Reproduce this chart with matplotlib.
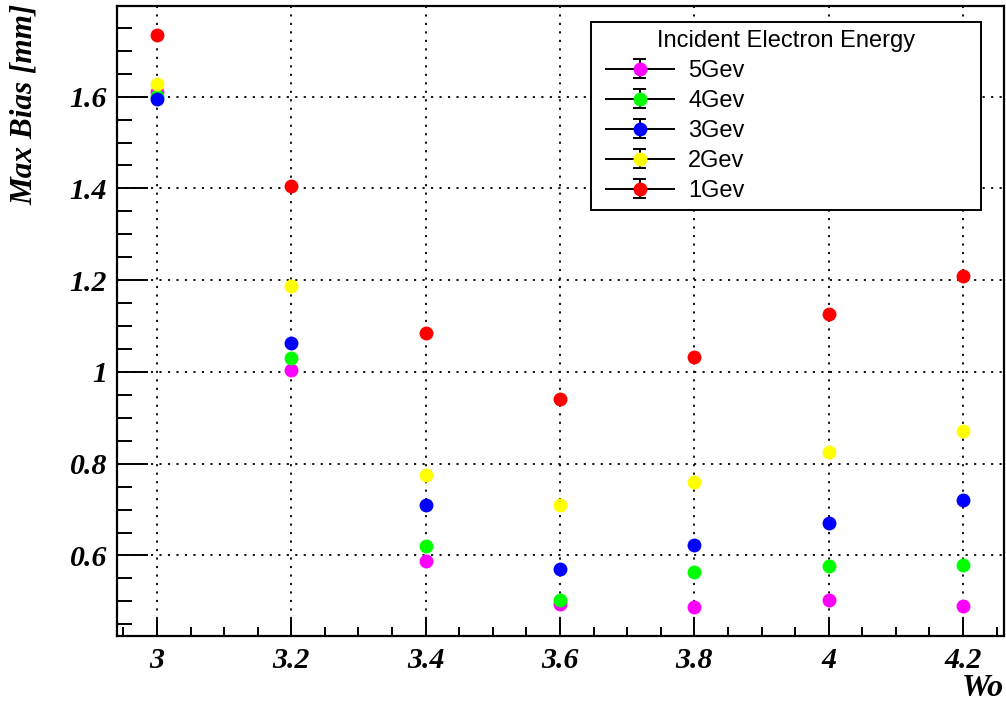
import numpy as np
import matplotlib
matplotlib.use("Agg")
import matplotlib.pyplot as plt
from matplotlib.lines import Line2D
from matplotlib.legend_handler import HandlerBase
from matplotlib.ticker import MultipleLocator

wo = [3.0, 3.2, 3.4, 3.6, 3.8, 4.0, 4.2]
bias_5gev = [1.611, 1.004, 0.589, 0.495, 0.487, 0.502, 0.489]
bias_4gev = [1.601, 1.030, 0.620, 0.504, 0.565, 0.576, 0.580]
bias_3gev = [1.595, 1.063, 0.709, 0.570, 0.622, 0.670, 0.720]
bias_2gev = [1.628, 1.187, 0.776, 0.709, 0.761, 0.826, 0.872]
bias_1gev = [1.735, 1.406, 1.085, 0.941, 1.032, 1.126, 1.209]
series_labels = ["5Gev", "4Gev", "3Gev", "2Gev", "1Gev"]
series_values = [bias_5gev, bias_4gev, bias_3gev, bias_2gev, bias_1gev]
series_colors = ["#ff00ff", "#00ff00", "#0000ff", "#ffff00", "#ff0000"]

fig = plt.figure(figsize=(10.06, 7.03), dpi=100)
ax = fig.add_axes([117/1006, 1-636/703, (1004-117)/1006, (636-6)/703])

handles = []
for lab, vals, col in zip(series_labels, series_values, series_colors):
    h, = ax.plot(wo, vals, linestyle='none', marker='o', ms=10, mfc=col,
                 mec=col, mew=0, label=lab, zorder=3)
    handles.append(h)

ax.set_xlim(2.9405, 4.261)
ax.set_ylim(0.4245, 1.7975)
ax.xaxis.set_major_locator(MultipleLocator(0.2))
ax.xaxis.set_minor_locator(MultipleLocator(0.05))
ax.yaxis.set_major_locator(MultipleLocator(0.2))
ax.yaxis.set_minor_locator(MultipleLocator(0.05))

def fmt(v, pos):
    s = f"{v:.1f}"
    if s.endswith(".0"):
        s = s[:-2]
    return s
ax.xaxis.set_major_formatter(plt.FuncFormatter(fmt))
ax.yaxis.set_major_formatter(plt.FuncFormatter(fmt))

ax.grid(True, which='major', color='black', linestyle=(0, (1.2, 3.5)), linewidth=1.3)
ax.set_axisbelow(True)

for sp in ax.spines.values():
    sp.set_linewidth(1.6)
    sp.set_color('black')

ax.tick_params(axis='y', which='major', direction='in', length=22, width=1.4, pad=7, left=True, right=False)
ax.tick_params(axis='y', which='minor', direction='in', length=11, width=1.4, left=True, right=False)
ax.tick_params(axis='x', which='major', direction='in', length=13, width=1.4, pad=8, bottom=True, top=False)
ax.tick_params(axis='x', which='minor', direction='in', length=6.5, width=1.4, bottom=True, top=False)
for lbl in ax.get_xticklabels() + ax.get_yticklabels():
    lbl.set_fontfamily('Liberation Serif')
    lbl.set_fontweight('bold')
    lbl.set_fontstyle('italic')
    lbl.set_fontsize(21.5)

fig.text(24/1006, 1-4/703, "Max Bias [mm]", rotation=90, ha='center', va='top',
         fontfamily='Liberation Serif', fontweight='bold', fontstyle='italic', fontsize=22.5)
fig.text(1004/1006, 1-688/703, "Wo", ha='right', va='center',
         fontfamily='Liberation Serif', fontweight='bold', fontstyle='italic', fontsize=23)


class ErrHandler(HandlerBase):
    def create_artists(self, legend, orig_handle, xdescent, ydescent, width, height, fontsize, trans):
        off = 5.0
        xs = -xdescent + off
        xe = width - xdescent
        cx = (xs + xe) / 2
        cy = height / 2 - ydescent
        e = 7.0
        c = 4.0
        arts = [
            Line2D([xs, xe], [cy, cy], color='black', lw=1.4),
            Line2D([cx, cx], [cy - e, cy + e], color='black', lw=1.4),
            Line2D([cx - c, cx + c], [cy + e, cy + e], color='black', lw=1.4),
            Line2D([cx - c, cx + c], [cy - e, cy - e], color='black', lw=1.4),
            Line2D([cx], [cy], marker='o', ms=10, mfc=orig_handle.get_markerfacecolor(),
                   mec=orig_handle.get_markerfacecolor(), mew=0, linestyle='none'),
        ]
        for a in arts:
            a.set_transform(trans)
        return arts

fs = 17
x0 = (591 - 117) / 887
x1 = (981 - 117) / 887
ytop = 1 - (22 - 6) / 630
leg = ax.legend(handles=handles, title="Incident Electron Energy",
                handler_map={Line2D: ErrHandler()},
                loc='upper left', bbox_to_anchor=(x0, ytop - 0.3, x1 - x0, 0.3),
                mode='expand',
                frameon=True, fancybox=False, shadow=False, framealpha=1,
                edgecolor='black', prop={'family': 'Liberation Sans', 'size': fs},
                title_fontproperties={'family': 'Liberation Sans', 'size': fs},
                handlelength=3.18, handletextpad=0.6, labelspacing=0.34,
                borderpad=0.33, borderaxespad=0)
leg.get_frame().set_linewidth(1.4)

fig.savefig("out.png", dpi=100)
